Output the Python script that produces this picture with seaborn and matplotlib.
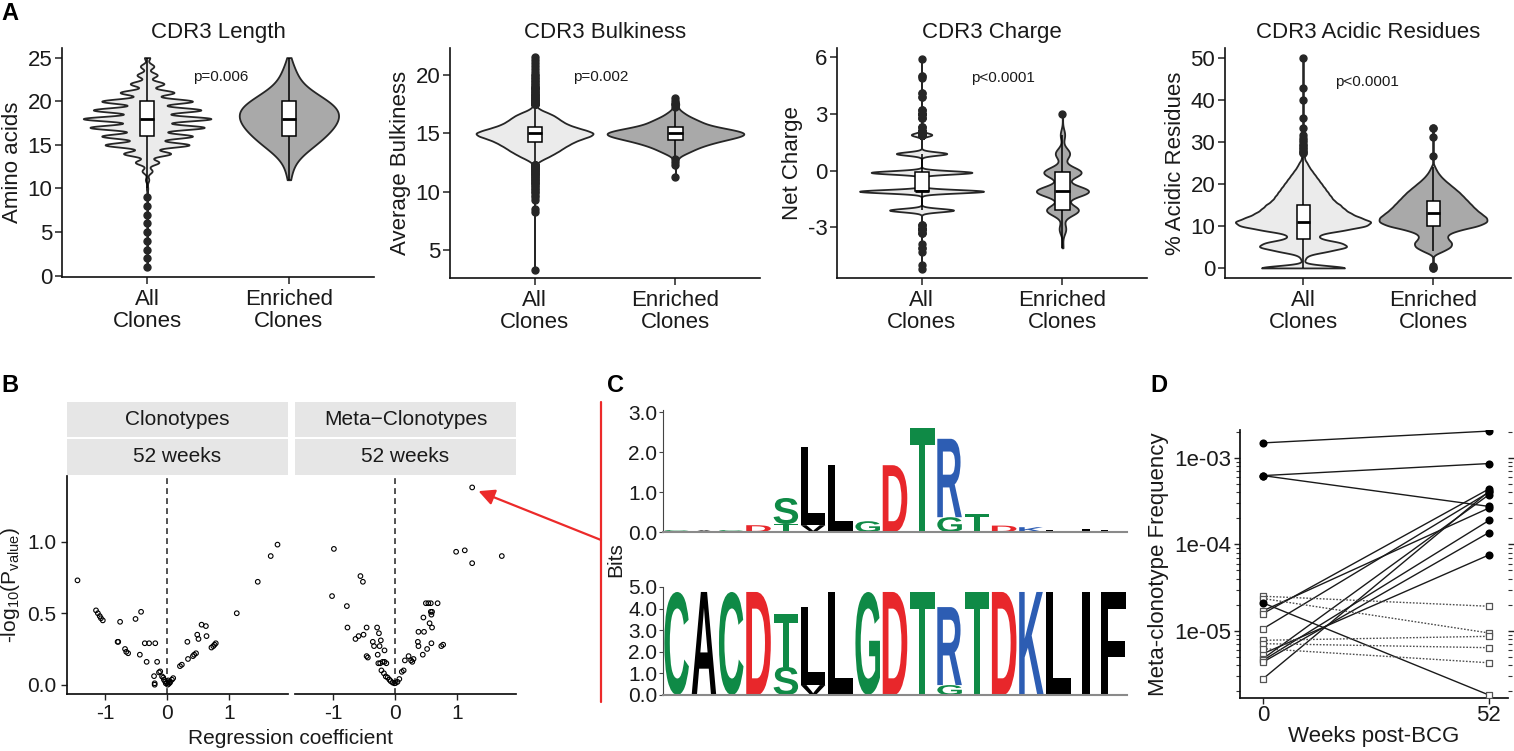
import numpy as np
import pandas as pd
import matplotlib
matplotlib.use("Agg")
import matplotlib.pyplot as plt
import seaborn as sns
from matplotlib.textpath import TextPath
from matplotlib.patches import PathPatch, Rectangle
from matplotlib.font_manager import FontProperties
from matplotlib.transforms import Affine2D
from matplotlib.lines import Line2D
from matplotlib.ticker import LogLocator, NullFormatter

# ======================= DATA =======================
groups = ["All\nClones", "Enriched\nClones"]

# --- A: CDR3 length (value, count)
len_all_values = [1, 2, 3, 4, 5, 6, 7, 8, 9, 10, 11, 12, 13, 14, 15, 16, 17, 18, 19, 20, 21, 22, 23, 24, 25]
len_all_counts = [1, 1, 1, 1, 1, 1, 1, 1, 1, 2, 5, 15, 35, 70, 125, 135, 170, 190, 160, 135, 80, 50, 30, 20, 8]
len_enr_values = [11, 12, 13, 14, 15, 16, 17, 18, 19, 20, 21, 22, 23, 24, 25]
len_enr_counts = [1, 2, 4, 9, 16, 22, 27, 30, 30, 24, 15, 8, 5, 3, 1]

# --- A: CDR3 bulkiness
bulk_all_values = [3.25, 8.25, 8.5, 9.25, 9.5, 9.75, 10.0, 10.25, 10.5, 10.75, 11.0, 11.25, 11.5, 11.75, 12.0, 12.25,
                   12.5, 12.75, 13.0, 13.25, 13.5, 13.75, 14.0, 14.25, 14.5, 14.75, 15.0, 15.25, 15.5, 15.75, 16.0,
                   16.25, 16.5, 16.75, 17.0, 17.25,
                   17.5, 17.75, 18.0, 18.25, 18.5, 18.75, 19.0, 19.25, 19.5, 19.75, 20.0, 20.25, 20.5, 20.75, 21.0,
                   21.25, 21.5]
bulk_all_counts = [1, 1, 1, 1, 1, 1, 2, 2, 2, 3, 3, 3, 4, 4, 5, 6,
                   12, 32, 56, 76, 96, 112, 132, 152, 180, 216, 232, 200, 160, 128, 108,
                   92, 76, 52, 24, 8,
                   6, 5, 4, 4, 3, 3, 3, 2, 2, 2, 2, 1, 1, 1, 1,
                   1, 1]
bulk_enr_values = [11.25, 12.25, 12.5, 12.75, 13.0, 13.25, 13.5, 13.75, 14.0, 14.25, 14.5, 14.75, 15.0, 15.25,
                   15.5, 15.75, 16.0, 16.25, 16.5, 16.75, 17.0, 17.25, 17.5, 17.75, 18.0]
bulk_enr_counts = [1, 1, 1, 1, 2, 5, 8, 11, 15, 20, 26, 32, 34, 29, 21, 15, 12, 9, 6, 4, 2, 1, 2, 1, 1]

# --- A: CDR3 net charge
ch_all_values = [-5.2, -5.0, -4.3, -4.1, -3.9, -3.3, -3.1, -2.9, -2.1, -1.1, -0.1, 0.9, 1.9, 2.1, 2.3,
                 2.8, 3.0, 3.2, 3.9, 4.1, 4.9, 5.0, 5.9]
ch_all_counts = [1, 1, 1, 2, 1, 3, 8, 3, 330, 640, 520, 260, 105, 6, 3, 3, 6, 3, 2, 2, 1, 2, 1]
ch_enr_values = [-4.1, -3.1, -2.1, -1.1, -0.1, 0.9, 1.9, 3.0]
ch_enr_counts = [2, 12, 58, 95, 68, 26, 8, 1]

# --- A: % acidic residues
ac_all_values = [0, 2, 3, 4, 5, 6, 7, 8, 9, 10, 11, 12, 13, 14, 15, 16, 17, 18, 19, 20, 21, 22, 23, 24, 25,
                 25.9, 26.3, 26.7, 27.3, 27.8, 28.6, 29.2, 30.0, 30.4, 31.0, 31.6, 33.3, 35.7, 40.0, 42.9, 50.0]
ac_all_counts = [165, 6, 12, 75, 135, 114, 45, 45, 120, 186, 201, 165, 138, 120, 108, 90, 81, 72, 63, 54, 45,
                 36, 27, 18, 12,
                 2, 2, 2, 2, 2, 2, 2, 1, 1, 1, 1, 1, 1, 1, 1, 1]
ac_enr_values = [0, 0.5, 4, 5, 6, 7, 8, 9, 10, 11, 12, 13, 14, 15, 16, 17, 18, 19, 20, 21, 22, 23, 24,
                 26.7, 31.3, 33.3]
ac_enr_counts = [2, 1, 10, 18, 19, 14, 14, 25, 45, 54, 53, 47, 42, 38, 34, 30, 26, 21, 16, 11, 7, 4, 2,
                 1, 1, 2]

p_labels = ["p=0.006", "p=0.002", "p<0.0001", "p<0.0001"]
titles_A = ["CDR3 Length", "CDR3 Bulkiness", "CDR3 Charge", "CDR3 Acidic Residues"]
ylabels_A = ["Amino acids", "Average Bulkiness", "Net Charge", "% Acidic Residues"]

# --- B: volcano points (regression coefficient, -log10 p)
clono_coef = [-1.45, -1.15, -1.12, -1.09, -1.07, -1.04, -0.80, -0.79, -0.76, -0.68, -0.66, -0.63, -0.51, -0.42,
              -0.44, -0.36, -0.29, -0.19, -0.33, -0.16, -0.21, -0.20, -0.20, -0.13, -0.11, -0.08, -0.06, -0.05,
              -0.03, -0.02, 0.00, 0.01, 0.02, 0.03, 0.04, 0.05, 0.08, 0.10, 0.21, 0.24, 0.33, 0.34, 0.42, 0.44,
              0.47, 0.49, 0.51, 0.56, 0.63, 0.64, 0.72, 0.75, 0.77, 0.79, 1.13, 1.47, 1.68, 1.79]
clono_logp = [0.73, 0.52, 0.50, 0.48, 0.465, 0.45, 0.30, 0.30, 0.44, 0.25, 0.23, 0.22, 0.46, 0.51,
              0.21, 0.29, 0.29, 0.29, 0.16, 0.16, 0.06, 0.00, 0.01, 0.086, 0.093, 0.058, 0.05, 0.035,
              0.023, 0.01, 0.012, 0.00, 0.03, 0.007, 0.02, 0.016, 0.035, 0.046, 0.13, 0.14, 0.30, 0.18, 0.20, 0.21,
              0.22, 0.35, 0.32, 0.42, 0.41, 0.34, 0.26, 0.27, 0.28, 0.29, 0.50, 0.72, 0.90, 0.98]
meta_coef = [-0.99, -1.02, -0.78, -0.77, -0.56, -0.52, -0.64, -0.59, -0.51, -0.46, -0.46, -0.44, -0.36, -0.34,
             -0.29, -0.26, -0.23, -0.28, -0.27, -0.24, -0.20, -0.17, -0.14, -0.22, -0.18, -0.15, -0.12, -0.09,
             -0.07, -0.04, -0.01, 0.01, 0.04, 0.07, -0.17, -0.25, 0.11, 0.14, 0.16, 0.22, 0.26, 0.28, 0.30,
             0.37, 0.38, 0.38, 0.45, 0.47, 0.46, 0.50, 0.54, 0.58, 0.52, 0.56, 0.59, 0.60, 0.58, 0.60, 0.59,
             0.69, 0.75, 0.78, 0.99, 1.13, 1.25, 1.25, 1.73]
meta_logp = [0.95, 0.62, 0.55, 0.40, 0.76, 0.72, 0.32, 0.34, 0.35, 0.40, 0.20, 0.19, 0.30, 0.27,
             0.40, 0.36, 0.31, 0.21, 0.15, 0.15, 0.16, 0.16, 0.15, 0.10, 0.08, 0.058, 0.05, 0.035,
             0.025, 0.015, 0.01, 0.012, 0.02, 0.04, 0.24, 0.27, 0.09, 0.10, 0.17, 0.20, 0.17, 0.16, 0.18,
             0.30, 0.37, 0.27, 0.21, 0.37, 0.47, 0.57, 0.57, 0.57, 0.25, 0.43, 0.49, 0.51, 0.51, 0.40, 0.29,
             0.57, 0.27, 0.28, 0.93, 0.94, 0.85, 1.38, 0.90]
facet_titles = ["Clonotypes", "Meta\u2212Clonotypes"]
facet_sub = "52 weeks"

# --- C: sequence logos (letters stacked bottom->top, heights in bits)
logo_top_letters = [["C"], ["A"], ["C"], ["D"], ["T", "S"], ["V", "L"], ["L"], ["G"], ["D"], ["T"],
                    ["G", "R"], ["T"], ["D"], ["K"], ["L"], ["I"], ["F"]]
logo_top_heights = [[0.05], [0.04], [0.05], [0.17], [0.2, 0.65], [0.17, 1.95], [1.67], [0.27], [1.67], [2.6],
                    [0.37, 1.96], [0.45], [0.16], [0.12], [0.06], [0.07], [0.06]]
logo_bot_letters = [["C"], ["A"], ["C"], ["D"], ["S", "T"], ["V", "L"], ["L"], ["G"], ["D"], ["T"],
                    ["G", "R"], ["T"], ["D"], ["K"], ["L"], ["I"], ["F"]]
logo_bot_heights = [[4.77], [4.77], [4.77], [4.77], [1.3, 2.45], [0.46, 3.61], [4.77], [4.77], [4.77], [4.77],
                    [0.46, 3.61], [4.77], [4.77], [4.77], [4.77], [4.77], [4.77]]

# --- D: meta-clonotype frequency at week 0 and 52
d_freq0 = [1.49e-3, 6.24e-4, 6.24e-4, 2.11e-5, 1.71e-5, 1.59e-5, 1.06e-5, 5.46e-6, 4.78e-6, 4.57e-6,
           4.37e-6, 2.80e-6, 2.52e-5, 2.37e-5, 7.8e-6, 7.13e-6, 6.24e-6]
d_freq52 = [2.04e-3, 8.6e-4, 2.75e-4, 1.82e-6, 2.63e-4, 4.37e-4, 4.0e-4, 7.55e-5, 3.75e-4, 1.89e-4,
            1.37e-4, 4.1e-4, 1.93e-5, 9.48e-6, 8.67e-6, 6.41e-6, 4.29e-6]
d_kind = ["solid"] * 12 + ["dotted"] * 5
d_fill0 = [True, True, True, True] + [False] * 13
d_fill52 = [True, True, True, False] + [True] * 8 + [False] * 5
weeks = [0, 52]

# ======================= STYLE =======================
sns.set_theme(style="ticks")
plt.rcParams["font.family"] = ["Liberation Sans", "DejaVu Sans"]
plt.rcParams["axes.unicode_minus"] = False
plt.rcParams["mathtext.default"] = "regular"

W, H = 1514, 751
fig = plt.figure(figsize=(W / 100, H / 100), dpi=100)


def box(l, t, r, b):
    return [l / W, 1 - b / H, (r - l) / W, (b - t) / H]


all_fill = "#ebebeb"
enr_fill = "#a9a9a9"
TXT = "#1a1a1a"


def violin_panel(ax, av, ac, ev, ec, bw_all, bw_enr, w_all, w_enr):
    s_all = np.repeat(np.array(av, float), ac)
    s_enr = np.repeat(np.array(ev, float), ec)
    df_all = pd.DataFrame({"group": groups[0], "value": s_all})
    df_enr = pd.DataFrame({"group": groups[1], "value": s_enr})
    for df, bw, w, col in [(df_all, bw_all, w_all, all_fill), (df_enr, bw_enr, w_enr, enr_fill)]:
        factor = bw / df["value"].std()
        sns.violinplot(data=df, x="group", y="value", order=groups, color=col, saturation=1, width=w,
                       density_norm="width", cut=0, inner=None, bw_method=factor, gridsize=1500,
                       linewidth=1.3, linecolor="#262626", ax=ax)
    df = pd.concat([df_all, df_enr], ignore_index=True)
    sns.boxplot(data=df, x="group", y="value", order=groups, width=0.1, color="white", saturation=1,
                linecolor="black", linewidth=1.1, showcaps=False, fliersize=5,
                flierprops=dict(marker="o", markerfacecolor="#262626", markeredgecolor="#262626"),
                medianprops=dict(linewidth=2.0, color="black"), ax=ax)


def style_A(ax, title, ylabel, yticks, ylim, ptext, pxy):
    ax.set_xlim(-0.6, 1.6)
    ax.set_ylim(*ylim)
    ax.set_yticks(yticks)
    ax.set_title(title, fontsize=16, pad=7, color=TXT)
    ax.set_ylabel(ylabel, fontsize=16, color=TXT, labelpad=3)
    ax.set_xlabel("")
    ax.tick_params(labelsize=16, length=5, width=1.1, color="#222222", labelcolor=TXT)
    ax.tick_params(axis="y", pad=2)
    for s in ["top", "right"]:
        ax.spines[s].set_visible(False)
    for s in ["left", "bottom"]:
        ax.spines[s].set_color("#111111")
        ax.spines[s].set_linewidth(1.2)
    for t in ax.get_xticklabels():
        t.set_linespacing(1.1)
    ax.text(pxy[0], pxy[1], ptext, fontsize=11, ha="center", va="center", color=TXT)


# ---------------- Panel A ----------------
axA1 = fig.add_axes(box(62, 48, 374, 277))
violin_panel(axA1, len_all_values, len_all_counts, len_enr_values, len_enr_counts, 0.28, 0.8, 0.9, 0.70)
style_A(axA1, titles_A[0], ylabels_A[0], [0, 5, 10, 15, 20, 25], (-0.15, 26.1), p_labels[0], (0.52, 22.8))

axA2 = fig.add_axes(box(450, 48, 760, 278))
violin_panel(axA2, bulk_all_values, bulk_all_counts, bulk_enr_values, bulk_enr_counts, 0.15, 0.18, 0.83, 0.97)
style_A(axA2, titles_A[1], ylabels_A[1], [5, 10, 15, 20], (2.6, 22.3), p_labels[1], (0.47, 19.85))

axA3 = fig.add_axes(box(837, 48, 1147, 278))
violin_panel(axA3, ch_all_values, ch_all_counts, ch_enr_values, ch_enr_counts, 0.09, 0.28, 0.88, 0.37)
style_A(axA3, titles_A[2], ylabels_A[2], [-3, 0, 3, 6], (-5.7, 6.5), p_labels[2], (0.58, 4.9))

axA4 = fig.add_axes(box(1225, 48, 1511, 278))
violin_panel(axA4, ac_all_values, ac_all_counts, ac_enr_values, ac_enr_counts, 0.55, 0.6, 1.04, 0.83)
style_A(axA4, titles_A[3], ylabels_A[3], [0, 10, 20, 30, 40, 50], (-2.4, 52.4), p_labels[3], (0.49, 44.3))

# ---------------- Panel B ----------------
axB1 = fig.add_axes(box(67, 476, 288, 694))
axB2 = fig.add_axes(box(295, 476, 516, 694))
for ax, xs, ys, ttl in [(axB1, clono_coef, clono_logp, facet_titles[0]), (axB2, meta_coef, meta_logp, facet_titles[1])]:
    ax.axvline(0, color="#333333", lw=1.2, ls=(0, (3.5, 2.5)), zorder=1)
    sns.scatterplot(x=xs, y=ys, ax=ax, color="black", facecolors="none", edgecolor="black", s=11,
                    linewidth=0.8, legend=False, zorder=3)
    ax.set_xlim(-1.62, 1.96)
    ax.set_ylim(-0.065, 1.46)
    ax.set_xticks([-1, 0, 1])
    ax.set_xticklabels(["-1", "0", "1"])
    ax.tick_params(labelsize=15, length=4, width=1, color="#222222", labelcolor=TXT)
    for s in ["top", "right"]:
        ax.spines[s].set_visible(False)
    ax.spines["bottom"].set_color("#111111")
    hh = 218.0
    for (y0, y1, lab) in [(1 + 1 / hh, 1 + 37 / hh, facet_sub), (1 + 39 / hh, 1 + 74 / hh, ttl)]:
        ax.add_patch(Rectangle((0, y0), 1, y1 - y0, transform=ax.transAxes, facecolor="#e6e6e6",
                               edgecolor="none", clip_on=False))
        ax.text(0.5, (y0 + y1) / 2, lab, transform=ax.transAxes, ha="center", va="center",
                fontsize=15, color=TXT)
axB1.set_yticks([0.0, 0.5, 1.0])
axB1.set_yticklabels(["0.0", "0.5", "1.0"])
axB1.spines["left"].set_color("#111111")
axB1.set_ylabel(r"-log$_{10}$(P$_{value}$)", fontsize=15, color=TXT, labelpad=4)
axB2.spines["left"].set_visible(False)
axB2.set_yticks([])
fig.text(291 / W, 1 - 738 / H, "Regression coefficient", ha="center", va="center", fontsize=15, color=TXT)

# ---------------- Panel C ----------------
letter_colors = {"C": "#0f8a46", "G": "#0f8a46", "S": "#0f8a46", "T": "#0f8a46",
                 "D": "#e8272b", "E": "#e8272b", "R": "#2d5db3", "K": "#2d5db3",
                 "A": "black", "L": "black", "V": "black", "I": "black", "F": "black"}
letter_widths = {"I": 0.3}
logo_font = FontProperties(family="Liberation Sans", weight="bold")


def draw_logo(ax, letters, heights):
    for pos, (chars, hs) in enumerate(zip(letters, heights)):
        bottom = 0.0
        for ch, h in zip(chars, hs):
            tp = TextPath((0, 0), ch, size=1, prop=logo_font)
            ext = tp.get_extents()
            w = letter_widths.get(ch, 0.9)
            tr = (Affine2D().translate(-ext.x0, -ext.y0)
                  .scale(w / ext.width, h / ext.height)
                  .translate(pos - w / 2, bottom))
            ax.add_patch(PathPatch(tr.transform_path(tp), facecolor=letter_colors[ch], edgecolor="none"))
            bottom += h


axC1 = fig.add_axes(box(663, 410, 1127, 532))
axC2 = fig.add_axes(box(663, 587, 1127, 695))
draw_logo(axC1, logo_top_letters, logo_top_heights)
draw_logo(axC2, logo_bot_letters, logo_bot_heights)
for ax, ylim, yt in [(axC1, (0, 3.05), [0.0, 1.0, 2.0, 3.0]), (axC2, (0, 5.0), [0.0, 1.0, 2.0, 3.0, 4.0, 5.0])]:
    ax.set_xlim(-0.5, 16.5)
    ax.set_ylim(*ylim)
    ax.set_yticks(yt)
    ax.set_yticklabels([f"{v:.1f}" for v in yt])
    ax.set_xticks([])
    ax.tick_params(axis="y", labelsize=15, length=3, width=0.8, pad=1, color="#444444", labelcolor=TXT)
    for s in ["top", "right"]:
        ax.spines[s].set_visible(False)
    ax.spines["left"].set_color("#444444")
    ax.spines["left"].set_linewidth(0.8)
    ax.spines["bottom"].set_color("#8a8a8a")
    ax.spines["bottom"].set_linewidth(1.5)
    ax.patch.set_alpha(0)
fig.text(616 / W, 1 - 560 / H, "Bits", rotation=90, ha="center", va="center", fontsize=15, color=TXT)

red = "#ec2a2a"
fig.add_artist(Line2D([601 / W, 601 / W], [1 - 402 / H, 1 - 702 / H], color=red, lw=1.6))
axB2.annotate("", xy=(1.29, 1.365), xycoords="data",
              xytext=(601 / W, 1 - 540 / H), textcoords="figure fraction",
              arrowprops=dict(arrowstyle="-|>", color=red, lw=1.6, mutation_scale=24, shrinkA=0, shrinkB=3),
              annotation_clip=False)

# ---------------- Panel D ----------------
axD = fig.add_axes(box(1240, 430, 1508, 698))
axD.set_yscale("log")
rows = []
pts = []
for i in range(len(d_freq0)):
    rows.append({"pair": i, "week": weeks[0], "freq": d_freq0[i], "kind": d_kind[i]})
    rows.append({"pair": i, "week": weeks[1], "freq": d_freq52[i], "kind": d_kind[i]})
    pts.append({"week": weeks[0], "freq": d_freq0[i], "filled": d_fill0[i]})
    pts.append({"week": weeks[1], "freq": d_freq52[i], "filled": d_fill52[i]})
dfl = pd.DataFrame(rows)
dfp = pd.DataFrame(pts)
sns.lineplot(data=dfl, x="week", y="freq", units="pair", estimator=None, hue="kind", style="kind",
             hue_order=["solid", "dotted"], style_order=["solid", "dotted"],
             palette={"solid": "#1a1a1a", "dotted": "#4d4d4d"},
             dashes={"solid": "", "dotted": (1.2, 1.2)}, linewidth=1.0, legend=False, ax=axD)
sns.scatterplot(data=dfp[~dfp["filled"]], x="week", y="freq", marker="s", color="white",
                edgecolor="#555555", s=16, linewidth=0.9, legend=False, ax=axD, zorder=3)
sns.scatterplot(data=dfp[dfp["filled"]], x="week", y="freq", marker="o", color="black",
                edgecolor="black", s=34, linewidth=0, legend=False, ax=axD, zorder=4)
axD.set_xlim(-5.3, 56.4)
axD.set_ylim(1.68e-6, 2.1e-3)
axD.set_xticks([0, 52])
axD.set_xticklabels(["0", "52"])
axD.set_yticks([1e-5, 1e-4, 1e-3])
axD.set_yticklabels(["1e-05", "1e-04", "1e-03"])
axD.yaxis.set_minor_locator(LogLocator(base=10, subs=(2, 3, 4, 5, 6, 7, 8, 9)))
axD.yaxis.set_minor_formatter(NullFormatter())
axD.tick_params(axis="both", which="major", labelsize=16, length=4, width=1, color="#222222", labelcolor=TXT)
axD.tick_params(axis="x", which="major", pad=1)
axD.tick_params(axis="y", which="major", pad=2)
axD.tick_params(axis="y", which="minor", length=3, width=0.8, color="#333333")
axD.tick_params(axis="y", which="both", right=True)
for s in ["top", "right"]:
    axD.spines[s].set_visible(False)
axD.spines["left"].set_color("#111111")
axD.spines["bottom"].set_color("#111111")
axD.set_xlabel("Weeks post-BCG", fontsize=16, color=TXT, labelpad=0)
axD.set_ylabel("Meta-clonotype Frequency", fontsize=16, color=TXT, labelpad=4)

# ---------------- panel letters ----------------
for lab, x, y in [("A", 1, 2), ("B", 1, 374), ("C", 607, 374), ("D", 1150, 374)]:
    fig.text(x / W, 1 - y / H, lab, fontsize=17, fontweight="bold", ha="left", va="top", color="black")

fig.savefig("out.png", dpi=100)
